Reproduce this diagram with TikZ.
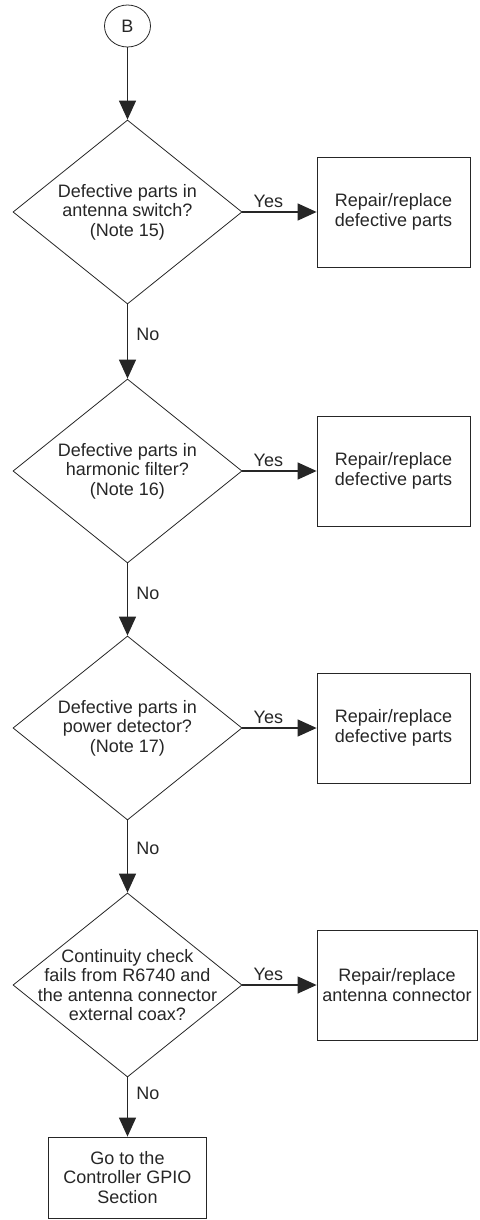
\documentclass[tikz,border=0pt]{standalone}
\usepackage{fontspec}
\setmainfont{Liberation Sans}
\usepackage{tikz}
\usetikzlibrary{shapes.geometric, arrows.meta, positioning}

\definecolor{inkgray}{HTML}{262626}

\begin{document}
\begin{tikzpicture}[x=1pt, y=-1pt, font=\fontsize{18}{19.5}\selectfont, color=inkgray,
   connector/.style={ellipse, draw, line width=0.8pt, minimum width=46pt, minimum height=42pt, inner sep=0pt},
   decision/.style={diamond, draw, line width=0.8pt, minimum width=229pt, minimum height=184pt, inner sep=0pt},
   action/.style={rectangle, draw, line width=0.8pt, minimum width=153pt, minimum height=110pt, align=center},
   flow/.style={line width=1.3pt, -{Triangle[length=19pt, width=17pt]}}]
\useasboundingbox (0,0) rectangle (479,1220);

% Start connector
\node[connector] (B) at (127.5, 26) {B};

% Decisions
\node[decision, label={[align=center]center:Defective parts in\\antenna switch?\\(Note 15)}] (d1) at (127.5, 212) {};
\node[decision, label={[align=center]center:Defective parts in\\harmonic filter?\\(Note 16)}] (d2) at (127.5, 471) {};
\node[decision, label={[align=center]center:Defective parts in\\power detector?\\(Note 17)}] (d3) at (127.5, 728) {};
\node[decision, label={[align=center]center:Continuity check\\fails from R6740 and\\the antenna connector\\external coax?}] (d4) at (127.5, 985) {};

% Repairs
\node[action] (r1) at (393.5, 212) {Repair/replace\\defective parts};
\node[action] (r2) at (393.5, 471) {Repair/replace\\defective parts};
\node[action] (r3) at (393.5, 728) {Repair/replace\\defective parts};
\node[action, minimum width=160pt] (r4) at (397, 985) {Repair/replace\\antenna connector};

% Exit
\node[action, minimum width=158pt, minimum height=81pt] (gpio) at (127.5, 1177.5) {Go to the\\Controller GPIO\\Section};

% Arrows
\draw[flow] (B) -- (d1);
\draw[flow] (d1.east) -- node[pos=0.35, above] {Yes} (r1.west);
\draw[flow] (d1.south) -- node[pos=0.4, right=5pt] {No} (d2.north);
\draw[flow] (d2.east) -- node[pos=0.35, above] {Yes} (r2.west);
\draw[flow] (d2.south) -- node[pos=0.42, right=5pt] {No} (d3.north);
\draw[flow] (d3.east) -- node[pos=0.35, above] {Yes} (r3.west);
\draw[flow] (d3.south) -- node[pos=0.39, right=5pt] {No} (d4.north);
\draw[flow] (d4.east) -- node[pos=0.35, above] {Yes} (r4.west);
\draw[flow] (d4.south) -- node[pos=0.27, right=5pt] {No} (gpio.north);
\end{tikzpicture}
\end{document}
